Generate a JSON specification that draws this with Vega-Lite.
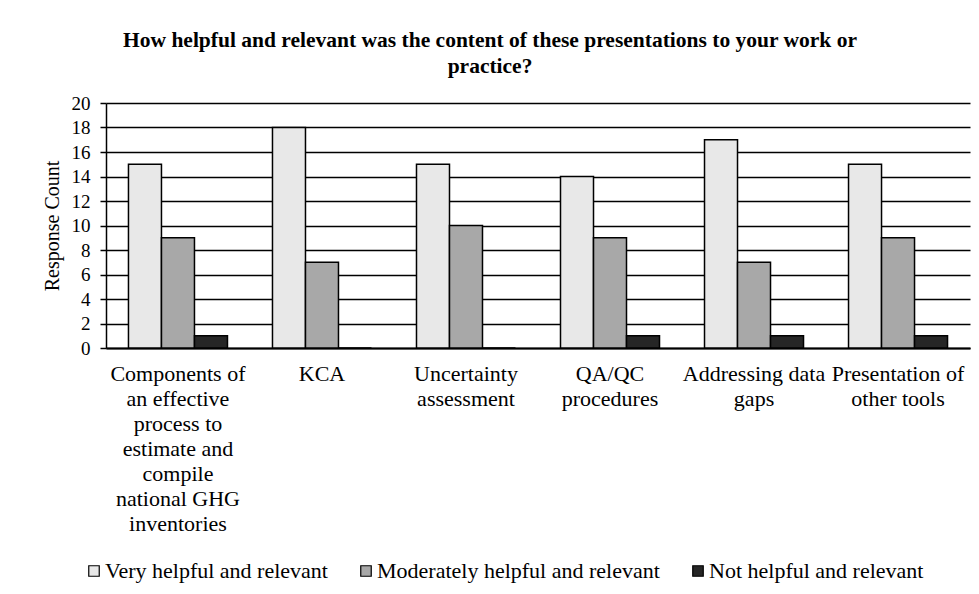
{
  "$schema": "https://vega.github.io/schema/vega-lite/v6.json",
  "width": 864,
  "height": 245,
  "autosize": {"type": "none"},
  "padding": {"left": 106, "top": 103, "right": 9, "bottom": 246},
  "background": "white",
  "title": {
    "text": ["How helpful and relevant was the content of these presentations to your work or", "practice?"],
    "font": "Liberation Serif",
    "fontSize": 21.5,
    "fontWeight": "bold",
    "color": "black",
    "anchor": "middle",
    "dx": -48,
    "offset": 17,
    "lineHeight": 26
  },
  "data": {
    "values": [
      {"topic": "Components of an effective process to estimate and compile national GHG inventories", "rating": "Very helpful and relevant", "count": 15},
      {"topic": "Components of an effective process to estimate and compile national GHG inventories", "rating": "Moderately helpful and relevant", "count": 9},
      {"topic": "Components of an effective process to estimate and compile national GHG inventories", "rating": "Not helpful and relevant", "count": 1},
      {"topic": "KCA", "rating": "Very helpful and relevant", "count": 18},
      {"topic": "KCA", "rating": "Moderately helpful and relevant", "count": 7},
      {"topic": "KCA", "rating": "Not helpful and relevant", "count": 0},
      {"topic": "Uncertainty assessment", "rating": "Very helpful and relevant", "count": 15},
      {"topic": "Uncertainty assessment", "rating": "Moderately helpful and relevant", "count": 10},
      {"topic": "Uncertainty assessment", "rating": "Not helpful and relevant", "count": 0},
      {"topic": "QA/QC procedures", "rating": "Very helpful and relevant", "count": 14},
      {"topic": "QA/QC procedures", "rating": "Moderately helpful and relevant", "count": 9},
      {"topic": "QA/QC procedures", "rating": "Not helpful and relevant", "count": 1},
      {"topic": "Addressing data gaps", "rating": "Very helpful and relevant", "count": 17},
      {"topic": "Addressing data gaps", "rating": "Moderately helpful and relevant", "count": 7},
      {"topic": "Addressing data gaps", "rating": "Not helpful and relevant", "count": 1},
      {"topic": "Presentation of other tools", "rating": "Very helpful and relevant", "count": 15},
      {"topic": "Presentation of other tools", "rating": "Moderately helpful and relevant", "count": 9},
      {"topic": "Presentation of other tools", "rating": "Not helpful and relevant", "count": 1}
    ]
  },
  "mark": {"type": "bar", "stroke": "black", "strokeWidth": 1.5},
  "encoding": {
    "x": {
      "field": "topic",
      "type": "nominal",
      "sort": null,
      "scale": {"paddingInner": 0.3125, "paddingOuter": 0.156},
      "axis": {
        "title": null,
        "labelAngle": 0,
        "ticks": false,
        "domainColor": "black",
        "domainWidth": 2,
        "labelFont": "Liberation Serif",
        "labelFontSize": 22,
        "labelColor": "black",
        "labelLineHeight": 25,
        "labelPadding": 15,
        "labelLimit": 0,
        "labelExpr": "datum.value == 'Components of an effective process to estimate and compile national GHG inventories' ? ['Components of','an effective','process to','estimate and','compile','national GHG','inventories'] : datum.value == 'Uncertainty assessment' ? ['Uncertainty','assessment'] : datum.value == 'QA/QC procedures' ? ['QA/QC','procedures'] : datum.value == 'Addressing data gaps' ? ['Addressing data','gaps'] : datum.value == 'Presentation of other tools' ? ['Presentation of','other tools'] : datum.value"
      }
    },
    "xOffset": {
      "field": "rating",
      "type": "nominal",
      "sort": ["Very helpful and relevant", "Moderately helpful and relevant", "Not helpful and relevant"],
      "scale": {"paddingInner": 0, "paddingOuter": 0}
    },
    "y": {
      "field": "count",
      "type": "quantitative",
      "scale": {"domain": [0, 20]},
      "axis": {
        "title": "Response Count",
        "titleFont": "Liberation Serif",
        "titleFontSize": 20,
        "titleFontWeight": "normal",
        "titleColor": "black",
        "titlePadding": 9,
        "tickCount": 11,
        "values": [0, 2, 4, 6, 8, 10, 12, 14, 16, 18, 20],
        "labelOverlap": false,
        "labelFont": "Liberation Serif",
        "labelFontSize": 19,
        "labelColor": "black",
        "labelPadding": 10,
        "tickSize": 6,
        "tickColor": "black",
        "tickWidth": 1.5,
        "domainColor": "black",
        "domainWidth": 1.5,
        "grid": true,
        "gridColor": "black",
        "gridWidth": 1.5,
        "gridOpacity": 1
      }
    },
    "fill": {
      "field": "rating",
      "type": "nominal",
      "scale": {
        "domain": ["Very helpful and relevant", "Moderately helpful and relevant", "Not helpful and relevant"],
        "range": ["#e8e8e8", "#a8a8a8", "#262626"]
      },
      "legend": {
        "title": null,
        "orient": "none",
        "direction": "horizontal",
        "legendX": -23,
        "legendY": 457,
        "padding": 0,
        "symbolType": "square",
        "symbolSize": 110,
        "symbolStrokeColor": "black",
        "symbolStrokeWidth": 1.2,
        "labelFont": "Liberation Serif",
        "labelFontSize": 22,
        "labelColor": "black",
        "labelOffset": 0,
        "labelLimit": 0,
        "columnPadding": 27
      }
    }
  },
  "config": {
    "view": {"stroke": null}
  }
}
